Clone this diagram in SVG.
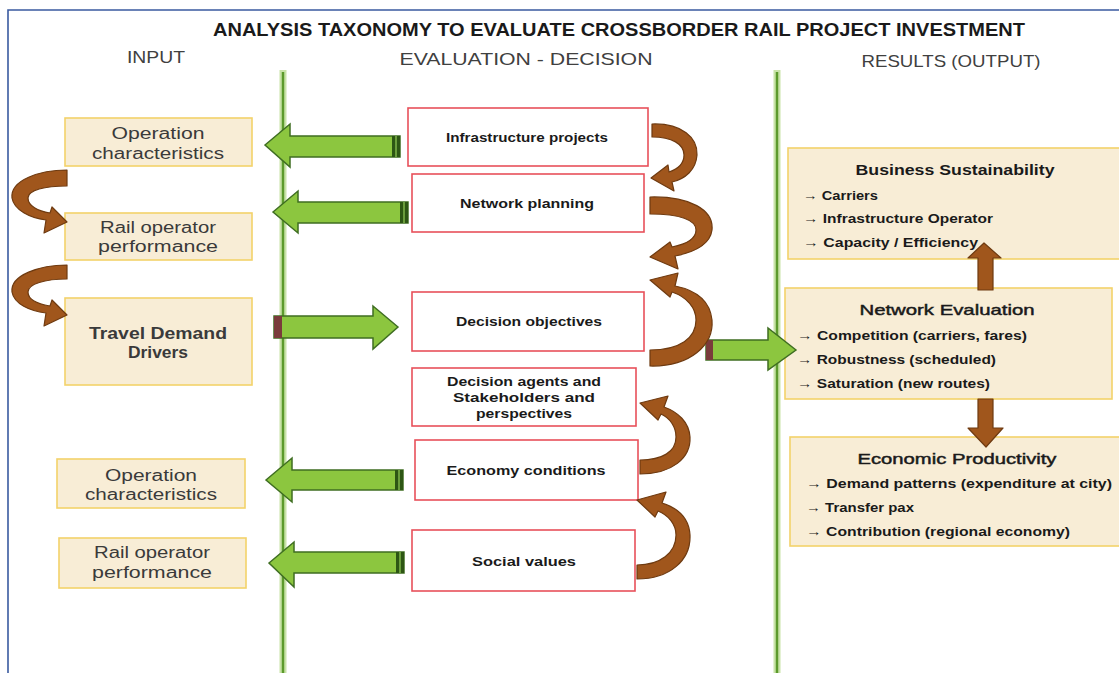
<svg xmlns="http://www.w3.org/2000/svg" width="1119" height="673" viewBox="0 0 1119 673">
<style>
.hdr{font-family:"Liberation Sans",Arial,sans-serif;font-size:17px;fill:#404040;text-anchor:middle}
.in{fill:#f8edd6;stroke:#f3d26a;stroke-width:1.6}
.lt{font-family:"Liberation Sans",Arial,sans-serif;font-size:16px;fill:#3a3a3a;text-anchor:middle}
.mid{fill:#ffffff;stroke:#e8505a;stroke-width:1.6}
.mt{font-family:"Liberation Sans",Arial,sans-serif;font-size:13px;font-weight:bold;fill:#1a1a1a;text-anchor:middle}
.rt{font-family:"Liberation Sans",Arial,sans-serif;font-size:15px;fill:#1a1a1a;text-anchor:middle}
.semi{stroke:#1a1a1a;stroke-width:0.45}
.ri{font-family:"Liberation Sans",Arial,sans-serif;font-size:12.5px;font-weight:bold;fill:#1a1a1a}
.ga{fill:#8cc63f;stroke:#3f6e22;stroke-width:1.5;stroke-linejoin:miter}
.ba{fill:#a0561c;stroke:#6e3a10;stroke-width:1.2;stroke-linejoin:round}
.vg{stroke:#c9e3a8;stroke-width:7}
.vd{stroke:#5c9a2c;stroke-width:2.5}
</style>

<!-- frame -->
<path d="M8,673 L8,10 L1119,10" fill="none" stroke="#3a5aa0" stroke-width="1.6"/>

<!-- title and headers -->
<text x="619" y="36" font-family="'Liberation Sans',Arial,sans-serif" font-size="18" font-weight="bold" fill="#1a1a1a" text-anchor="middle" textLength="812" lengthAdjust="spacingAndGlyphs">ANALYSIS TAXONOMY TO EVALUATE CROSSBORDER RAIL PROJECT INVESTMENT</text>
<text class="hdr" x="156" y="63" textLength="58" lengthAdjust="spacingAndGlyphs">INPUT</text>
<text class="hdr" x="526" y="65" textLength="253" lengthAdjust="spacingAndGlyphs">EVALUATION - DECISION</text>
<text class="hdr" x="951" y="67" textLength="179" lengthAdjust="spacingAndGlyphs">RESULTS (OUTPUT)</text>

<!-- column dividers -->
<g id="dividers">
<line class="vg" x1="283" y1="70" x2="283" y2="673"/>
<line class="vd" x1="283" y1="72" x2="283" y2="673"/>
<line class="vg" x1="777" y1="70" x2="777" y2="673"/>
<line class="vd" x1="777" y1="72" x2="777" y2="673"/>
</g>

<!-- input nodes -->
<g id="in-op1">
<rect class="in" x="65" y="118" width="187" height="48"/>
<text class="lt" x="158" y="139" textLength="93" lengthAdjust="spacingAndGlyphs">Operation</text>
<text class="lt" x="158" y="159" textLength="132" lengthAdjust="spacingAndGlyphs">characteristics</text>
</g>
<g id="in-rail1">
<rect class="in" x="65" y="213" width="187" height="47"/>
<text class="lt" x="158" y="233" textLength="116" lengthAdjust="spacingAndGlyphs">Rail operator</text>
<text class="lt" x="158" y="252" textLength="120" lengthAdjust="spacingAndGlyphs">performance</text>
</g>
<g id="in-travel">
<rect class="in" x="65" y="298" width="187" height="87"/>
<text class="lt" x="158" y="339" font-weight="bold" fill="#1a1a1a" textLength="138" lengthAdjust="spacingAndGlyphs">Travel Demand</text>
<text class="lt" x="158" y="358" font-weight="bold" fill="#1a1a1a" textLength="60" lengthAdjust="spacingAndGlyphs">Drivers</text>
</g>
<g id="in-op2">
<rect class="in" x="57" y="459" width="188" height="49"/>
<text class="lt" x="151" y="481" textLength="92" lengthAdjust="spacingAndGlyphs">Operation</text>
<text class="lt" x="151" y="500" textLength="132" lengthAdjust="spacingAndGlyphs">characteristics</text>
</g>
<g id="in-rail2">
<rect class="in" x="59" y="538" width="187" height="50"/>
<text class="lt" x="152" y="558" textLength="116" lengthAdjust="spacingAndGlyphs">Rail operator</text>
<text class="lt" x="152" y="578" textLength="120" lengthAdjust="spacingAndGlyphs">performance</text>
</g>

<!-- evaluation nodes -->
<g id="ev-infra">
<rect class="mid" x="408" y="108" width="240" height="58"/>
<text class="mt" x="527" y="142" textLength="162" lengthAdjust="spacingAndGlyphs">Infrastructure projects</text>
</g>
<g id="ev-network">
<rect class="mid" x="412" y="174" width="232" height="58"/>
<text class="mt" x="527" y="208" textLength="134" lengthAdjust="spacingAndGlyphs">Network planning</text>
</g>
<g id="ev-objectives">
<rect class="mid" x="412" y="292" width="232" height="59"/>
<text class="mt" x="529" y="326" textLength="146" lengthAdjust="spacingAndGlyphs">Decision objectives</text>
</g>
<g id="ev-agents">
<rect class="mid" x="412" y="368" width="224" height="58"/>
<text class="mt" x="524" y="386" textLength="154" lengthAdjust="spacingAndGlyphs">Decision agents and</text>
<text class="mt" x="524" y="402" textLength="142" lengthAdjust="spacingAndGlyphs">Stakeholders and</text>
<text class="mt" x="524" y="418" textLength="96" lengthAdjust="spacingAndGlyphs">perspectives</text>
</g>
<g id="ev-economy">
<rect class="mid" x="415" y="440" width="223" height="60"/>
<text class="mt" x="526" y="475" textLength="159" lengthAdjust="spacingAndGlyphs">Economy conditions</text>
</g>
<g id="ev-social">
<rect class="mid" x="412" y="530" width="223" height="61"/>
<text class="mt" x="524" y="566" textLength="104" lengthAdjust="spacingAndGlyphs">Social values</text>
</g>

<!-- result nodes -->
<g id="res-business">
<rect class="in" x="788" y="148" width="335" height="111"/>
<text class="rt" x="955" y="175" font-weight="bold" textLength="199" lengthAdjust="spacingAndGlyphs">Business Sustainability</text>
<text class="ri" x="803" y="200" textLength="75" lengthAdjust="spacingAndGlyphs">→ Carriers</text>
<text class="ri" x="803" y="223" textLength="190" lengthAdjust="spacingAndGlyphs">→ Infrastructure Operator</text>
<text class="ri" x="803" y="247" textLength="175" lengthAdjust="spacingAndGlyphs">→ Capacity / Efficiency</text>
</g>
<g id="res-network">
<rect class="in" x="785" y="288" width="327" height="111"/>
<text class="rt semi" x="947" y="315" textLength="175" lengthAdjust="spacingAndGlyphs">Network Evaluation</text>
<text class="ri" x="797" y="340" textLength="230" lengthAdjust="spacingAndGlyphs">→ Competition (carriers, fares)</text>
<text class="ri" x="797" y="364" textLength="199" lengthAdjust="spacingAndGlyphs">→ Robustness (scheduled)</text>
<text class="ri" x="797" y="388" textLength="193" lengthAdjust="spacingAndGlyphs">→ Saturation (new routes)</text>
</g>
<g id="res-economic">
<rect class="in" x="790" y="437" width="335" height="109"/>
<text class="rt semi" x="957" y="464" textLength="199" lengthAdjust="spacingAndGlyphs">Economic Productivity</text>
<text class="ri" x="806" y="488" textLength="306" lengthAdjust="spacingAndGlyphs">→ Demand patterns (expenditure at city)</text>
<text class="ri" x="806" y="512" textLength="108" lengthAdjust="spacingAndGlyphs">→ Transfer pax</text>
<text class="ri" x="806" y="536" textLength="264" lengthAdjust="spacingAndGlyphs">→ Contribution (regional economy)</text>
</g>

<!-- connectors -->
<g id="connectors">
<!-- green block arrows -->
<polygon class="ga" points="265,145 290,124 290,136 400,136 400,157 290,157 290,167"/>
<rect x="392" y="136" width="8" height="21" fill="#2d5614"/><line x1="396" y1="136" x2="396" y2="157" stroke="#7fb64a" stroke-width="1.5"/>
<polygon class="ga" points="273,212 298,191 298,202 408,202 408,223 298,223 298,233"/>
<rect x="400" y="202" width="8" height="21" fill="#2d5614"/><line x1="404" y1="202" x2="404" y2="223" stroke="#7fb64a" stroke-width="1.5"/>
<polygon class="ga" points="398,327 373,306 373,316 274,316 274,338 373,338 373,349"/>
<rect x="274" y="316" width="8" height="22" fill="#7a3b3b"/>
<polygon class="ga" points="266,480 292,458 292,470 403,470 403,490 292,490 292,502"/>
<rect x="395" y="470" width="8" height="20" fill="#2d5614"/><line x1="399" y1="470" x2="399" y2="490" stroke="#7fb64a" stroke-width="1.5"/>
<polygon class="ga" points="269,563 294,542 294,552 404,552 404,573 294,573 294,587"/>
<rect x="396" y="552" width="8" height="21" fill="#2d5614"/><line x1="400" y1="552" x2="400" y2="573" stroke="#7fb64a" stroke-width="1.5"/>
<polygon class="ga" points="796,350 768,328 768,340 706,340 706,360 768,360 768,370"/>
<rect x="706" y="340" width="7" height="20" fill="#7a3b3b"/>

<!-- brown curved arrows, left -->
<path class="ba" d="M67,170 C40,170 10,180 12,198 C14,210 30,218 46,220 L44,233 L67,222 L52,207 L50,213 C38,211 28,206 28,198 C28,190 45,186 67,186 Z"/>
<path class="ba" d="M67,265 C40,265 10,275 12,292 C14,304 30,311 46,313 L44,326 L67,315 L52,300 L50,306 C38,304 28,300 28,292 C28,284 45,279 67,279 Z"/>

<!-- brown curved arrows, right of evaluation -->
<path class="ba" d="M652,124 C682,123 698,138 697,155 C696,170 685,179 672,182 L674,191 L651,178 L668,165 L669,172 C678,169 684,163 684,155 C684,144 672,137 652,137 Z"/>
<path class="ba" d="M650,197 C690,196 714,210 712,230 C710,245 695,252 675,256 L678,269 L650,257 L670,242 L672,247 C687,244 696,238 696,230 C696,220 680,214 650,214 Z"/>
<path class="ba" d="M650,366 C690,367 714,345 712,320 C710,300 695,290 675,286 L678,273 L650,280 L670,297 L672,292 C687,297 696,308 696,320 C696,338 680,350 650,350 Z"/>
<path class="ba" d="M640,474 C672,474 691,458 690,437 C689,422 678,412 664,407 L668,396 L640,403 L658,420 L661,414 C670,418 676,427 676,437 C676,452 662,460 640,460 Z"/>
<path class="ba" d="M637,579 C670,579 691,560 690,535 C689,518 678,508 662,503 L666,492 L637,500 L655,517 L658,511 C668,515 676,524 676,535 C676,553 660,565 637,565 Z"/>

<!-- brown straight arrows, results -->
<polygon class="ba" points="984,243 1001,258 993,258 993,290 978,290 978,258 968,258"/>
<polygon class="ba" points="986,447 1003,428 993,428 993,399 978,399 978,428 968,428"/>
</g>
</svg>
